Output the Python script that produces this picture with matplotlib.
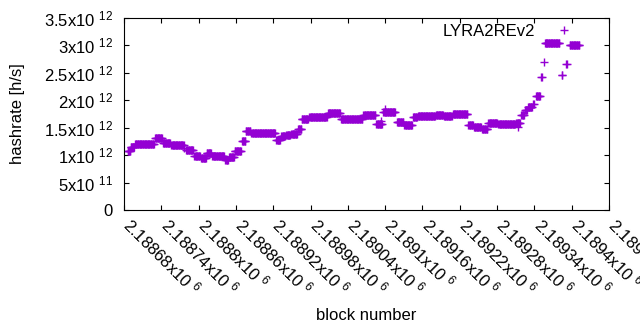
import numpy as np
import matplotlib
matplotlib.use("Agg")
import matplotlib.pyplot as plt
from matplotlib.transforms import ScaledTranslation

plt.rcParams['font.family'] = ['Liberation Sans', 'DejaVu Sans']
plt.rcParams['mathtext.fontset'] = 'custom'
plt.rcParams['mathtext.rm'] = 'Liberation Sans'
plt.rcParams['mathtext.it'] = 'Liberation Sans:italic'
plt.rcParams['mathtext.bf'] = 'Liberation Sans:bold'

# hashrate runs: first block, last block, value (x1e12 h/s)
run_first = [2188686, 2188691, 2188698, 2188730, 2188743, 2188756, 2188780, 2188793,
             2188804, 2188813, 2188822, 2188843, 2188849, 2188858, 2188870, 2188876,
             2188885, 2188925, 2188933, 2188941, 2188949, 2188960, 2188966, 2188978,
             2189008, 2189029, 2189065, 2189086, 2189097, 2189119, 2189131, 2189145,
             2189153, 2189182, 2189195, 2189209, 2189234, 2189243, 2189256, 2189266,
             2189282, 2189311, 2189319, 2189325, 2189330, 2189338, 2189343, 2189351,
             2189355, 2189357, 2189384, 2189391, 2189397]
run_last = [2188690, 2188696, 2188728, 2188741, 2188754, 2188776, 2188791, 2188802,
            2188812, 2188820, 2188841, 2188847, 2188857, 2188868, 2188875, 2188883,
            2188923, 2188931, 2188939, 2188947, 2188958, 2188965, 2188976, 2189006,
            2189027, 2189063, 2189084, 2189095, 2189116, 2189129, 2189143, 2189151,
            2189180, 2189193, 2189207, 2189232, 2189241, 2189254, 2189264, 2189280,
            2189309, 2189317, 2189323, 2189328, 2189336, 2189339, 2189349, 2189352,
            2189355, 2189380, 2189385, 2189392, 2189412]
run_value = [1.07, 1.14, 1.20, 1.31, 1.22, 1.18, 1.09, 0.98,
             0.94, 1.04, 0.98, 0.92, 0.97, 1.08, 1.26, 1.44,
             1.40, 1.28, 1.34, 1.37, 1.38, 1.47, 1.66, 1.70,
             1.77, 1.65, 1.73, 1.57, 1.78, 1.60, 1.55, 1.70,
             1.71, 1.74, 1.71, 1.75, 1.55, 1.51, 1.47, 1.58,
             1.56, 1.59, 1.73, 1.82, 1.88, 1.94, 2.08, 2.42,
             2.69, 3.04, 2.47, 2.67, 3.01]

# single stray points
extra_block = [2189100, 2189093, 2189314, 2188776]
extra_value = [1.85, 1.62, 1.51, 1.13]

xticks = np.arange(2188680, 2189461, 60)
yticks = [0, 0.5e12, 1e12, 1.5e12, 2e12, 2.5e12, 3e12, 3.5e12]

blocks = []
values = []
for a, b, v in zip(run_first, run_last, run_value):
    for blk in range(a, b + 1):
        blocks.append(blk)
        values.append(v * 1e12)
blocks += extra_block
values += [v * 1e12 for v in extra_value]


def sci(v):
    if v == 0:
        return "0"
    e = int(np.floor(np.log10(v) + 1e-9))
    m = v / 10 ** e
    return f"{m:g}x10 $^{{{e}}}$"


fig = plt.figure(figsize=(6.4, 3.3), dpi=100)
ax = fig.add_axes([124 / 640, 1 - 210 / 330, 485 / 640, 192 / 330])

ax.plot(blocks, values, linestyle='none', marker='+', markersize=5.2,
        markeredgewidth=1.0, color='#9400D3', label='LYRA2REv2')

ax.set_xlim(2188680, 2189460)
ax.set_ylim(0, 3.5e12)
ax.set_xticks(xticks)
ax.set_xticklabels([f"{x / 1e6:g}x10 $^{{6}}$" for x in xticks],
                   rotation=-45, ha='left', va='top', rotation_mode='anchor')
ax.set_yticks(yticks)
ax.set_yticklabels([sci(y) for y in yticks])
ax.tick_params(direction='in', top=True, right=True, length=3.5, width=0.8,
               labelsize=12, colors='#000000')
ax.tick_params(axis='y', pad=8)
ax.tick_params(axis='x', pad=3)
shift = ScaledTranslation(10 / 100, 0, fig.dpi_scale_trans)
for lab in ax.get_xticklabels():
    lab.set_transform(lab.get_transform() + shift)
for s in ax.spines.values():
    s.set_linewidth(0.8)

ax.set_xlabel('block number', fontsize=12)
ax.set_ylabel('hashrate [h/s]', fontsize=12)
ax.xaxis.set_label_coords(0.5, -0.51)
ax.yaxis.set_label_coords(-0.204, 0.5)

ax.legend(loc='center right', bbox_to_anchor=(0.942, 0.929), frameon=False,
          markerfirst=False, fontsize=12, handlelength=2, handletextpad=0.76,
          borderpad=0, borderaxespad=0)

fig.savefig('out.png', dpi=100)
